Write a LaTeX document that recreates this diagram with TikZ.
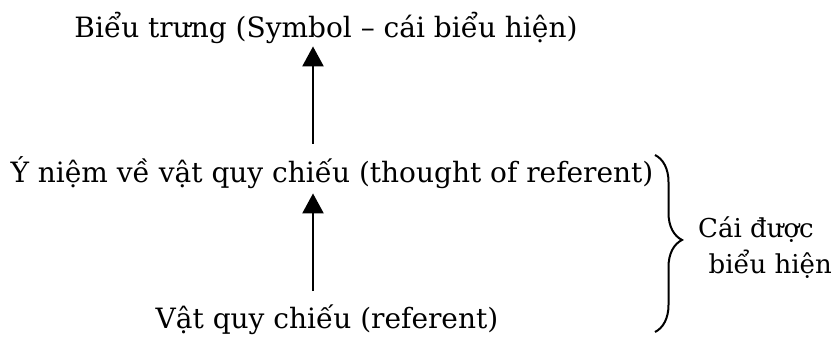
\documentclass[tikz,border=0pt]{standalone}
\usepackage{fontspec}
\setmainfont{DejaVu Serif}
\usetikzlibrary{arrows.meta,decorations.pathreplacing}
\begin{document}
\begin{tikzpicture}[x=1pt,y=-1pt,
  lbl/.style={inner sep=0pt,anchor=base,font=\fontsize{28}{34}\selectfont},
  side/.style={inner sep=0pt,font=\fontsize{26}{32}\selectfont},
  arr/.style={line width=2.5pt,-{Triangle[length=20pt,width=21pt]}},
  bracestyle/.style={line width=2pt,decorate,decoration={brace,amplitude=27pt,aspect=0.48}}]
\useasboundingbox (0,0) rectangle (835,340);
\node[lbl] (sym) at (326,37) {Biểu trưng (Symbol – cái biểu hiện)};
\node[lbl] (tho) at (332,182) {Ý niệm về vật quy chiếu (thought of referent)};
\node[lbl] (ref) at (327,328) {Vật quy chiếu (referent)};
\coordinate (ax) at (313,0);
\draw[arr,shorten <=12pt,shorten >=3pt] (tho.north -| ax) -- (sym.south -| ax);
\draw[arr,shorten <=13pt,shorten >=5pt] (ref.north -| ax) -- (tho.south -| ax);
\coordinate (bt) at (655,155);
\coordinate (bb) at (655,332);
\draw[bracestyle] (bt) -- (bb);
\node[side,anchor=base west] (c1) at (698,237) {Cái được};
\node[side,anchor=base east] (c2) at (832,273) {biểu hiện};
\end{tikzpicture}
\end{document}
